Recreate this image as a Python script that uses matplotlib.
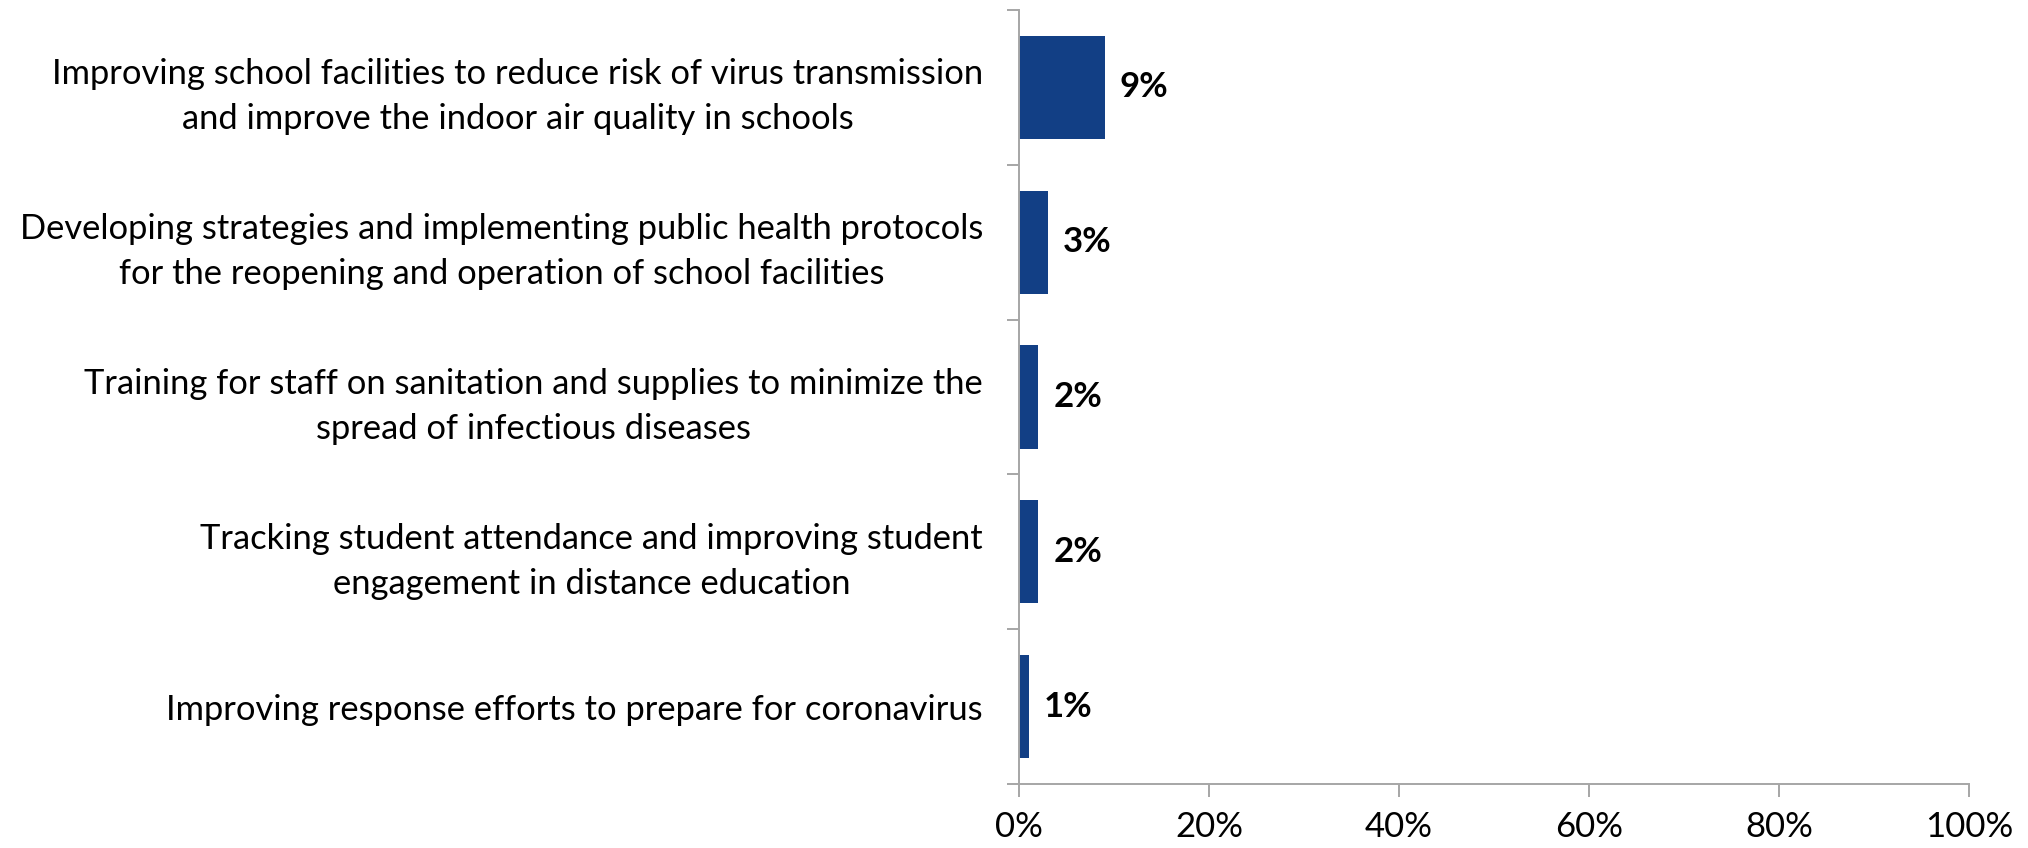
import numpy as np
import matplotlib.pyplot as plt
from matplotlib.ticker import FixedLocator

categories = [
    "Improving school facilities to reduce risk of virus transmission\nand improve the indoor air quality in schools",
    "Developing strategies and implementing public health protocols\nfor the reopening and operation of school facilities",
    "Training for staff on sanitation and supplies to minimize the\nspread of infectious diseases",
    "Tracking student attendance and improving student\nengagement in distance education",
    "Improving response efforts to prepare for coronavirus",
]
values = [9, 3, 2, 2, 1]
x_ticks = [0, 20, 40, 60, 80, 100]

bar_color = "#123f85"
axis_color = "#a6a6a6"
plt.rcParams["font.family"] = ["Lato", "DejaVu Sans"]

fig = plt.figure(figsize=(20.28, 8.48), dpi=100)
ax = fig.add_axes([0.5025, 0.0755, 0.4684, 0.9127])

y = np.arange(len(categories))
ax.barh(y, values, height=0.667, color=bar_color)
for yi, v in zip(y, values):
    ax.text(v + 1.6, yi, f"{v}%", va="center", ha="left",
            fontsize=25, fontweight="bold", color="black")

ax.set_xlim(0, 100)
ax.set_ylim(len(categories) - 0.5, -0.5)

ax.set_xticks(x_ticks)
ax.set_xticklabels([f"{t}%" for t in x_ticks], fontsize=25)
ax.set_yticks(y)
ax.set_yticklabels(categories, fontsize=24.8, multialignment="center",
                   linespacing=1.5)
ax.yaxis.set_minor_locator(FixedLocator(np.arange(-0.5, len(categories), 1)))

ax.tick_params(axis="y", which="major", length=0, pad=26)
ax.tick_params(axis="y", which="minor", length=8.6, width=1.4, color=axis_color)
ax.tick_params(axis="x", length=9.4, width=1.4, color=axis_color, pad=10)

for s in ["top", "right"]:
    ax.spines[s].set_visible(False)
for s in ["left", "bottom"]:
    ax.spines[s].set_color(axis_color)
    ax.spines[s].set_linewidth(1.4)

fig.savefig("out.png", dpi=100)
